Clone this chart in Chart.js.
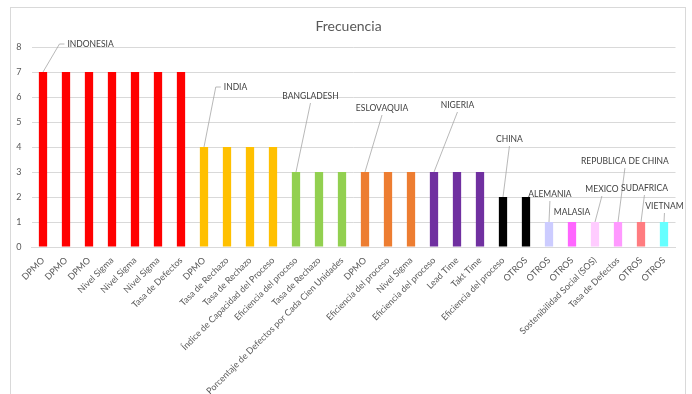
<!DOCTYPE html>
<html><head><meta charset="utf-8">
<script src="https://cdn.jsdelivr.net/npm/chart.js@4"></script>
<style>html,body{margin:0;padding:0;background:#fff;}#wrap{position:relative;width:692px;height:394px;}</style>
</head><body><div id="wrap"><canvas id="c" width="692" height="394"></canvas></div>
<script>
const categories = ["DPMO","DPMO","DPMO","Nivel Sigma","Nivel Sigma","Nivel Sigma","Tasa de Defectos","DPMO","Tasa de Rechazo","Tasa de Rechazo","Índice de Capacidad del Proceso","Eficiencia del proceso","Tasa de Rechazo","Porcentaje de Defectos por Cada Cien Unidades","DPMO","Eficiencia del proceso","Nivel Sigma","Eficiencia del proceso","Lead Time","Takt Time","Eficiencia del proceso","OTROS","OTROS","OTROS","Sostenibilidad Social (SOS)","Tasa de Defectos","OTROS","OTROS"];
const values = [7,7,7,7,7,7,7,4,4,4,4,3,3,3,3,3,3,3,3,3,2,2,1,1,1,1,1,1];
const barColors = ["#FF0000","#FF0000","#FF0000","#FF0000","#FF0000","#FF0000","#FF0000","#FFC000","#FFC000","#FFC000","#FFC000","#92D050","#92D050","#92D050","#ED7D31","#ED7D31","#ED7D31","#7030A0","#7030A0","#7030A0","#000000","#000000","#CCCCFF","#FF66FF","#FFCCFF","#FF99FF","#FF7C80","#66FFFF"];
const yTicks = [0,1,2,3,4,5,6,7,8];
const title = "Frecuencia";
// country labels: text, bar index, label position (category units, value units), leader attach
const countryNames = ["INDONESIA","INDIA","BANGLADESH","ESLOVAQUIA","NIGERIA","CHINA","ALEMANIA","MALASIA","MEXICO","REPUBLICA DE CHINA","SUDAFRICA","VIETNAM"];
const countryBar = [0,7,11,14,17,20,22,23,24,25,26,27];
const countryPosX = [2.07,8.37,11.63,14.74,18.02,20.28,22.04,23.0,24.3,25.3,26.15,27.02];
const countryPosV = [8.12,6.4,6.04,5.56,5.68,4.32,2.12,1.4,2.32,3.44,2.36,1.64];
const countryAttach = ["left","left","bottom","bottom","bottom","bottom","bottom","none","bottom","bottom","bottom","bottom"];

const FONT = "Lato, 'Open Sans', sans-serif";

const decor = {
  id:'decor',
  beforeDraw(chart){
    const ctx = chart.ctx;
    ctx.save();
    ctx.fillStyle = '#fff';
    ctx.fillRect(0,0,chart.width,chart.height);
    ctx.strokeStyle = '#D9D9D9';
    ctx.lineWidth = 1;
    ctx.strokeRect(10.5,7.5,675,400);
    ctx.fillStyle = '#595959';
    ctx.font = "14px " + FONT;
    ctx.textAlign = 'center';
    ctx.textBaseline = 'middle';
    const ca = chart.chartArea;
    ctx.fillText(title, (ca.left+ca.right)/2 - 5, 26);
    ctx.restore();
  },
  afterDatasetsDraw(chart){
    const ctx = chart.ctx;
    const xs = chart.scales.x, ys = chart.scales.y;
    const w = (xs.right - xs.left)/categories.length;
    ctx.save();
    ctx.font = "8.5px " + FONT;
    ctx.textBaseline = 'middle';
    ctx.textAlign = 'center';
    for (let k=0;k<countryNames.length;k++){
      const bi = countryBar[k];
      const bx = xs.getPixelForValue(bi);
      const by = ys.getPixelForValue(values[bi]);
      const tx = xs.left + (countryPosX[k]+0.5)*w;
      const ty = ys.getPixelForValue(countryPosV[k]);
      const tw = ctx.measureText(countryNames[k]).width;
      ctx.strokeStyle = '#A6A6A6';
      ctx.lineWidth = 0.8;
      if (countryAttach[k]==='left'){
        const lx = tx - tw/2 - 3;
        ctx.beginPath();
        ctx.moveTo(bx, by);
        ctx.lineTo(lx-5, ty);
        ctx.lineTo(lx, ty);
        ctx.stroke();
      } else if (countryAttach[k]==='bottom'){
        ctx.beginPath();
        ctx.moveTo(bx, by);
        ctx.lineTo(tx, ty+7);
        ctx.stroke();
      }
      ctx.fillStyle = '#404040';
      ctx.fillText(countryNames[k], tx, ty);
    }
    ctx.restore();
  }
};

new Chart(document.getElementById('c'), {
  type:'bar',
  data:{ labels: categories, datasets:[{ data: values, backgroundColor: barColors, borderWidth:0, barPercentage:0.36, categoryPercentage:1 }]},
  options:{
    responsive:false, animation:false,
    layout:{ padding:{ left:0, right:16.5, top:47, bottom:0 } },
    plugins:{ legend:{display:false}, title:{display:false}, tooltip:{enabled:false} },
    scales:{
      x:{
        offset:true,
        grid:{ display:false, drawTicks:false },
        border:{ display:true, color:'#D9D9D9' },
        ticks:{ color:'#595959', font:{ family:FONT, size:9 }, minRotation:45, maxRotation:45, autoSkip:false, padding:8 },
        afterFit(s){ s.height = 147; }
      },
      y:{
        min:0, max:8,
        afterBuildTicks(s){ s.ticks = yTicks.map(v=>({value:v})); },
        grid:{ color:'#D9D9D9', drawTicks:false },
        border:{ display:false },
        ticks:{ color:'#595959', font:{ family:FONT, size:9 }, padding:10 },
        afterFit(s){ s.width = 31.5; }
      }
    }
  },
  plugins:[decor]
});
</script></body></html>
